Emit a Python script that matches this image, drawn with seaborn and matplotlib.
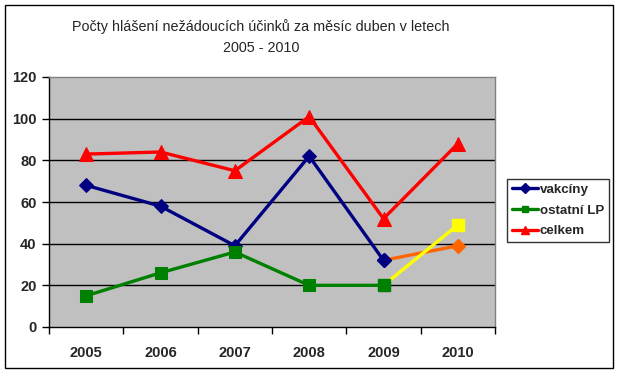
import matplotlib
matplotlib.use("Agg")
import matplotlib.pyplot as plt
import seaborn as sns
import pandas as pd
from matplotlib.lines import Line2D
from matplotlib.patches import Rectangle

years = [2005, 2006, 2007, 2008, 2009, 2010]
vakciny = [68, 58, 39, 82, 32, 39]
ostatni = [15, 26, 36, 20, 20, 49]
celkem = [83, 84, 75, 101, 52, 88]
series_names = ["vakcíny", "ostatní LP", "celkem"]
title = "Počty hlášení nežádoucích účinků za měsíc duben v letech\n2005 - 2010"
yticks = [0, 20, 40, 60, 80, 100, 120]

sns.set_style("white")
plt.rcParams["font.family"] = ["Liberation Sans", "DejaVu Sans"]

W, H = 621, 376
fig = plt.figure(figsize=(W / 100, H / 100), dpi=100)
ax = fig.add_axes([49 / W, (H - 327) / H, (495 - 49) / W, (327 - 77) / H])
ax.set_facecolor("#c0c0c0")

blue, green, red = "#000080", "#008000", "#ff0000"
orange, yellow = "#ff6600", "#ffff00"
lw = 2.4

df_v = pd.DataFrame({"x": years, "y": vakciny})
df_o = pd.DataFrame({"x": years, "y": ostatni})
df_c = pd.DataFrame({"x": years, "y": celkem})

# celkem full
sns.lineplot(data=df_c, x="x", y="y", ax=ax, color=red, lw=lw, marker="^",
             markersize=10.5, markeredgecolor=red, zorder=5)
# vakciny to 2009, last segment orange
sns.lineplot(data=df_v.iloc[:5], x="x", y="y", ax=ax, color=blue, lw=lw, marker="D",
             markersize=7.5, markeredgecolor=blue, zorder=4)
sns.lineplot(data=df_v.iloc[4:], x="x", y="y", ax=ax, color=orange, lw=lw, zorder=3)
ax.plot(df_v["x"].iloc[5:], df_v["y"].iloc[5:], marker="D", color=orange, markersize=7.5, ls="none", zorder=4)
ax.plot(df_v["x"].iloc[4:5], df_v["y"].iloc[4:5], marker="D", color=blue, markersize=7.5, ls="none", zorder=6)
# ostatni to 2009, last segment yellow
sns.lineplot(data=df_o.iloc[:5], x="x", y="y", ax=ax, color=green, lw=lw, marker="s",
             markersize=8.5, markeredgecolor=green, zorder=4)
sns.lineplot(data=df_o.iloc[4:], x="x", y="y", ax=ax, color=yellow, lw=lw, zorder=3)
ax.plot(df_o["x"].iloc[5:], df_o["y"].iloc[5:], marker="s", color=yellow, markersize=8.5, ls="none", zorder=4)
ax.plot(df_o["x"].iloc[4:5], df_o["y"].iloc[4:5], marker="s", color=green, markersize=8.5, ls="none", zorder=6)

ax.set_xlim(years[0] - 0.5, years[-1] + 0.5)
ax.set_ylim(0, 120)
ax.set_yticks(yticks)
ax.set_yticklabels([str(t) for t in yticks], fontsize=10.5, fontweight="bold")
ax.set_xticks(years)
ax.set_xticklabels([str(y) for y in years], fontsize=10.5, fontweight="bold")
ax.set_xticks([y + 0.5 for y in [years[0] - 1] + years], minor=True)
ax.tick_params(axis="x", which="major", length=0, pad=14)
ax.tick_params(axis="x", which="minor", length=5, width=1, color="black", direction="out", bottom=True)
ax.tick_params(axis="y", which="major", length=5, width=1, color="black", direction="out", left=True, pad=4)
ax.set_xlabel("")
ax.set_ylabel("")
for yv in yticks[1:-1]:
    ax.axhline(yv, color="black", lw=1, zorder=1)
for s in ["top", "right"]:
    ax.spines[s].set_color("#808080")
    ax.spines[s].set_linewidth(1)
for s in ["left", "bottom"]:
    ax.spines[s].set_color("black")
    ax.spines[s].set_linewidth(1)
ax.grid(False)

handles = [
    Line2D([], [], color=blue, lw=lw, marker="D", markersize=5),
    Line2D([], [], color=green, lw=lw, marker="s", markersize=5),
    Line2D([], [], color=red, lw=lw, marker="^", markersize=6),
]
leg = fig.legend(handles, series_names, loc="center left",
                 bbox_to_anchor=(507 / W, 1 - 210.5 / H),
                 prop={"weight": "bold", "size": 9.6}, frameon=True, fancybox=False,
                 handlelength=2.0, handletextpad=0.12, borderpad=0.35, borderaxespad=0,
                 labelspacing=0.62)
leg.get_frame().set_edgecolor("black")
leg.get_frame().set_linewidth(1)

fig.text(261 / W, 1 - 37 / H, title, ha="center", va="center", fontsize=10.4,
         linespacing=1.6)

fig.patches.append(Rectangle((5 / W, 1 - 368 / H), 608 / W, 363 / H, transform=fig.transFigure,
                             fill=False, edgecolor="black", lw=1))

fig.savefig("out.png", dpi=100)
